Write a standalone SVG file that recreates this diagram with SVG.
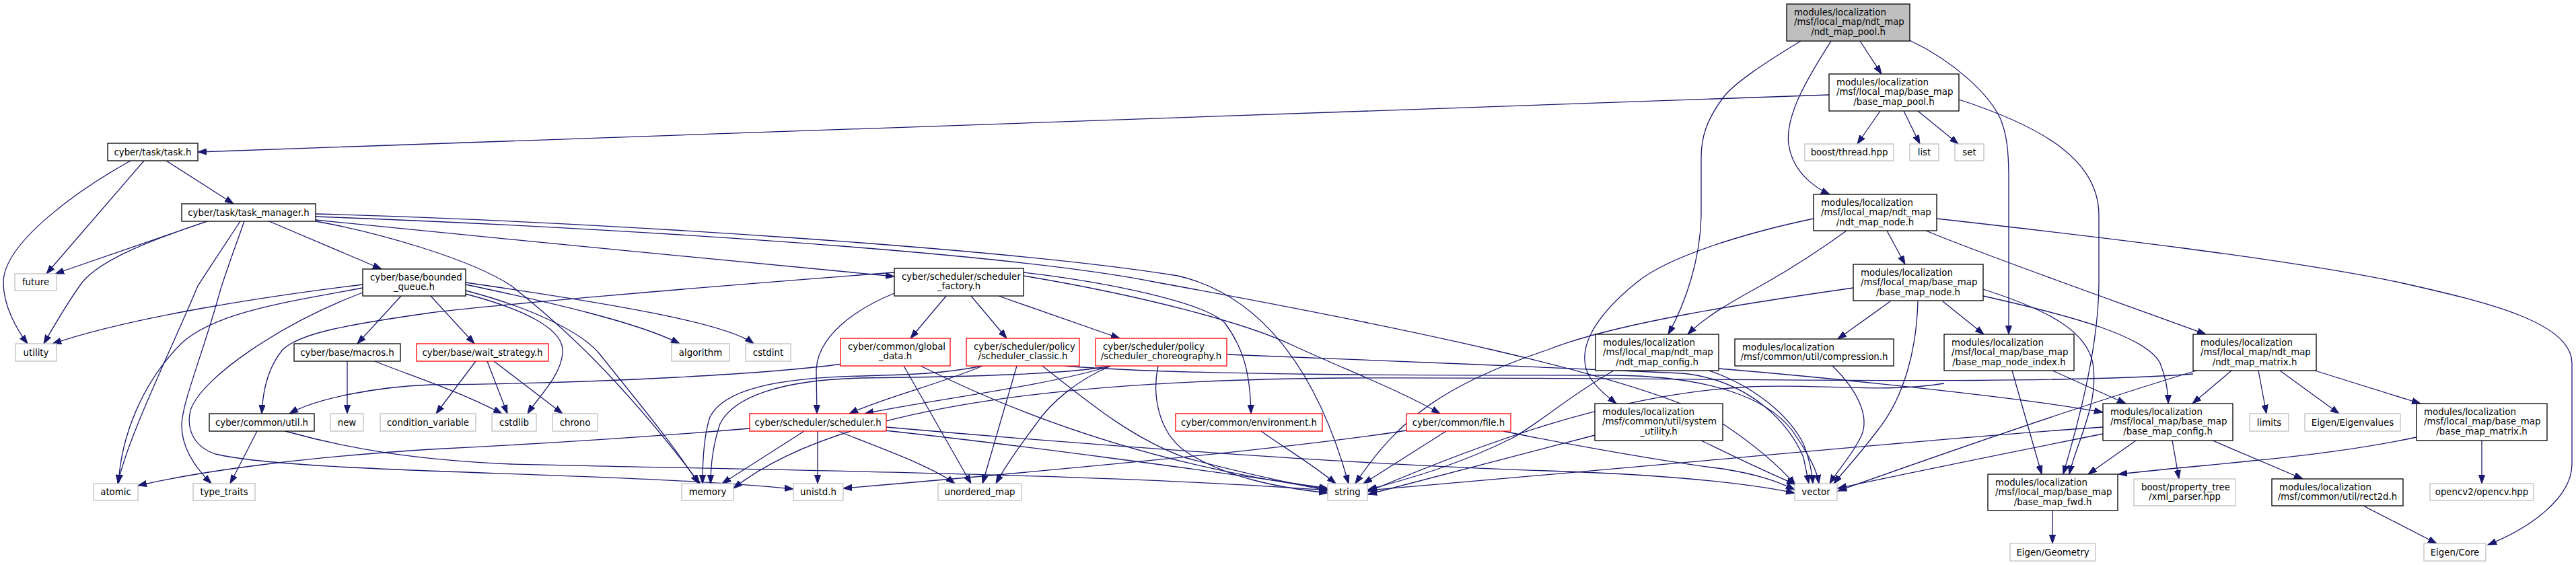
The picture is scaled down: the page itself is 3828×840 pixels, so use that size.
<svg xmlns="http://www.w3.org/2000/svg" width="3828" height="840" viewBox="0 0 3828 840">
<style>
.n rect{fill:#fff;stroke:#000;stroke-width:1.3}
.g rect{fill:#fff;stroke:#bfbfbf;stroke-width:1.3}
.r rect{fill:#fff;stroke:#ff0000;stroke-width:1.3}
.root rect{fill:#bfbfbf;stroke:#000;stroke-width:1.3}
text{font-family:"DejaVu Sans","Liberation Sans",sans-serif;font-size:13.33px;fill:#000}
.c{text-anchor:middle}
.e path{fill:none;stroke:#191970;stroke-width:1.3;marker-end:url(#ah)}
</style>
<defs>
<marker id="ah" markerUnits="userSpaceOnUse" markerWidth="14" markerHeight="10" viewBox="0 0 14 10" refX="13" refY="5" orient="auto">
<path d="M0,0.4 L13,5 L0,9.6 z" fill="#191970" stroke="#191970" stroke-width="1"/>
</marker>
</defs>
<rect x="0" y="0" width="3828" height="840" fill="#fff"/>
<g class="e" id="edges">
<path d="M2764,61 L2796,110"/>
<path d="M2721,61 C2690,110 2652,170 2658,215 C2664,255 2695,278 2719,289"/>
<path d="M2676,61 C2620,95 2575,125 2560,146 C2535,180 2528,205 2528,235 L2528,320 C2527,385 2505,450 2479,497"/>
<path d="M2838,60 C2905,92 2955,140 2972,175 C2983,200 2985,230 2985,265 L2985,497"/>
<path d="M2718,141 L294,226"/>
<path d="M2794,165 L2760,214"/>
<path d="M2829,165 L2853,214"/>
<path d="M2850,165 L2910,214"/>
<path d="M2911,148 C3040,190 3119,240 3119,320 L3119,420 C3119,520 3085,640 3066,705"/>
<path d="M214,239 L69,407"/>
<path d="M194,239 C120,280 5,360 5,420 C5,455 25,490 41,511"/>
<path d="M247,239 L347,303"/>
<path d="M308,329 L82,407"/>
<path d="M308,329 C230,355 150,385 122,420 C100,450 80,485 65,511"/>
<path d="M357,329 C330,370 310,400 294,425 C250,530 190,650 175,719"/>
<path d="M363,329 C345,380 330,420 325,440 C300,530 270,600 270,633 C270,670 295,700 314,719"/>
<path d="M400,329 L567,400"/>
<path d="M469,327 C700,350 1100,390 1329,411"/>
<path d="M469,329 C560,345 700,385 760,425 C830,480 920,560 1040,719"/>
<path d="M469,318 C900,330 1500,370 1750,410 C1880,440 1960,560 2004,719"/>
<path d="M469,322 C900,338 1500,375 1720,420 C2050,480 2450,560 2560,630 C2620,670 2650,700 2668,721"/>
<path d="M539,423 C400,440 200,470 78,511"/>
<path d="M539,428 C420,450 320,465 270,510 C210,570 180,650 176,719"/>
<path d="M596,440 L531,511"/>
<path d="M640,440 L705,511"/>
<path d="M692,423 C820,450 950,480 1010,511"/>
<path d="M692,420 C900,450 1080,480 1120,511"/>
<path d="M692,437 C780,460 840,490 836,525 C833,560 800,590 784,615"/>
<path d="M692,432 C780,455 860,490 890,525 C950,600 1000,660 1038,719"/>
<path d="M539,435 C420,480 300,560 283,610 C276,640 290,665 320,675 C450,705 900,700 1179,727"/>
<path d="M516,537 L516,615"/>
<path d="M557,537 C600,555 680,580 746,615"/>
<path d="M707,537 L648,615"/>
<path d="M724,537 L754,615"/>
<path d="M734,537 L836,615"/>
<path d="M382,641 L342,719"/>
<path d="M424,641 C520,668 620,684 760,690 C1200,700 1650,705 1973,729"/>
<path d="M1329,405 C1000,430 720,455 640,465 C520,482 445,495 420,520 C395,550 390,590 389,615"/>
<path d="M1329,436 C1270,460 1215,500 1213,550 L1214,615"/>
<path d="M1406,440 L1353,503"/>
<path d="M1443,440 L1496,503"/>
<path d="M1484,440 L1664,503"/>
<path d="M1521,405 C1650,420 1790,450 1820,480 C1850,520 1858,560 1859,615"/>
<path d="M1521,410 C1700,440 1850,480 1920,513 C2000,550 2080,580 2140,615"/>
<path d="M1252,541 C1150,555 900,570 640,572 C560,575 470,592 430,615"/>
<path d="M1343,544 L1443,719"/>
<path d="M1368,544 C1500,610 1700,690 1973,727"/>
<path d="M1460,544 C1400,570 1310,592 1262,615"/>
<path d="M1460,544 C1400,556 1350,557 1280,559 C1150,562 1075,580 1055,620 C1045,650 1044,690 1044,719"/>
<path d="M1511,544 L1460,719"/>
<path d="M1549,544 C1620,600 1680,650 1760,680 C1850,705 1920,718 1973,730"/>
<path d="M1582,544 C1750,558 2100,558 2400,558 C2560,560 2640,600 2670,650 C2690,680 2700,700 2703,719"/>
<path d="M1651,544 C1550,575 1380,595 1285,615"/>
<path d="M1651,544 C1590,556 1450,560 1280,562 C1160,565 1090,590 1070,630 C1060,660 1056,690 1056,719"/>
<path d="M1651,544 C1600,565 1560,600 1540,630 C1510,670 1490,700 1480,719"/>
<path d="M1721,544 C1712,585 1720,640 1760,670 C1820,710 1900,725 1973,733"/>
<path d="M1823,527 C2000,535 2300,545 2500,555 C2600,565 2660,630 2680,680 L2688,719"/>
<path d="M1114,637 C900,655 700,665 640,668 C450,680 300,700 205,722"/>
<path d="M1195,641 L1073,719"/>
<path d="M1215,641 L1215,719"/>
<path d="M1246,641 C1290,660 1380,690 1419,719"/>
<path d="M1315,640 C1500,660 1800,700 1973,726"/>
<path d="M1317,635 C1600,660 2000,690 2300,700 C2450,705 2580,715 2667,733"/>
<path d="M1874,641 C1900,660 1950,690 1985,719"/>
<path d="M2149,641 L2026,719"/>
<path d="M2234,641 C2350,665 2500,690 2560,697 C2610,705 2640,715 2667,728"/>
<path d="M2090,640 C1900,670 1500,705 1253,726"/>
<path d="M2398,551 C2330,590 2300,620 2250,650 C2170,690 2100,710 2033,728"/>
<path d="M2540,551 C2610,575 2660,620 2680,660 C2690,685 2693,705 2694,719"/>
<path d="M2554,548 C2700,560 3000,590 3125,613"/>
<path d="M2370,647 L2033,735"/>
<path d="M2528,655 C2570,675 2620,700 2668,720"/>
<path d="M2695,325 C2600,345 2480,380 2432,420 C2370,470 2340,520 2362,560 C2375,580 2392,592 2402,600"/>
<path d="M2744,343 C2700,375 2660,400 2625,420 C2590,440 2540,465 2508,497"/>
<path d="M2804,343 L2831,393"/>
<path d="M2862,343 C2950,380 3150,450 3278,497"/>
<path d="M2878,325 C3100,350 3400,385 3566,420 C3700,450 3822,480 3822,540 L3822,690 C3822,740 3760,785 3697,810"/>
<path d="M2754,428 C2600,450 2400,480 2300,520 C2150,570 2080,620 2014,719"/>
<path d="M2809,448 L2731,504"/>
<path d="M2850,448 C2848,520 2830,590 2790,640 C2760,680 2740,700 2725,719"/>
<path d="M2887,448 L2948,497"/>
<path d="M2947,430 C3040,460 3100,490 3110,540 C3120,600 3085,660 3075,705"/>
<path d="M2947,440 C3080,470 3190,500 3210,540 C3220,565 3222,585 3222,600"/>
<path d="M2723,544 C2760,580 2780,620 2765,650 C2750,680 2730,700 2719,719"/>
<path d="M2889,570 C2800,585 2700,570 2600,575 C2400,585 2200,660 2033,731"/>
<path d="M2990,551 L3034,705"/>
<path d="M3050,551 L3159,600"/>
<path d="M3125,635 C2900,650 2600,680 2033,729"/>
<path d="M3125,645 C3000,670 2850,700 2731,726"/>
<path d="M3174,655 L3103,705"/>
<path d="M3228,655 L3238,712"/>
<path d="M3288,655 L3422,712"/>
<path d="M3259,556 C3000,575 2500,560 2000,562 C1600,565 1250,600 1090,726"/>
<path d="M3264,551 C3100,600 2900,670 2731,730"/>
<path d="M3316,551 L3258,600"/>
<path d="M3356,551 L3368,615"/>
<path d="M3388,551 L3476,615"/>
<path d="M3440,551 L3597,600"/>
<path d="M3591,650 C3450,680 3300,688 3148,705"/>
<path d="M3688,655 L3688,719"/>
<path d="M3512,752 L3621,808"/>
<path d="M3050,759 L3050,808"/>
</g>
<g id="node_root" class="root"><rect x="2655" y="6" width="183" height="55"/><text x="2666" y="22.5">modules/localization</text><text x="2666" y="37.2">/msf/local_map/ndt_map</text><text class="c" x="2746.5" y="51.9">/ndt_map_pool.h</text></g>
<g id="node_bmpool" class="n"><rect x="2718" y="110" width="193" height="55"/><text x="2729" y="126.5">modules/localization</text><text x="2729" y="141.2">/msf/local_map/base_map</text><text class="c" x="2814.5" y="155.9">/base_map_pool.h</text></g>
<g id="node_task" class="n"><rect x="160" y="213" width="134" height="26"/><text class="c" x="227" y="230.5">cyber/task/task.h</text></g>
<g id="node_boost_thread" class="g"><rect x="2682" y="214" width="132" height="25"/><text class="c" x="2748" y="231">boost/thread.hpp</text></g>
<g id="node_list" class="g"><rect x="2838" y="214" width="43" height="25"/><text class="c" x="2859.5" y="231">list</text></g>
<g id="node_set" class="g"><rect x="2905" y="214" width="43" height="25"/><text class="c" x="2926.5" y="231">set</text></g>
<g id="node_taskmgr" class="n"><rect x="270" y="303" width="199" height="26"/><text class="c" x="369.5" y="320.5">cyber/task/task_manager.h</text></g>
<g id="node_ndtnode" class="n"><rect x="2695" y="289" width="183" height="54"/><text x="2706" y="305.5">modules/localization</text><text x="2706" y="320.2">/msf/local_map/ndt_map</text><text class="c" x="2786.5" y="334.9">/ndt_map_node.h</text></g>
<g id="node_future" class="g"><rect x="22" y="407" width="62" height="25"/><text class="c" x="53" y="424">future</text></g>
<g id="node_bq" class="n"><rect x="539" y="400" width="153" height="40"/><text x="550" y="416.5">cyber/base/bounded</text><text class="c" x="615.5" y="431.2">_queue.h</text></g>
<g id="node_factory" class="n"><rect x="1329" y="399" width="192" height="41"/><text x="1340" y="415.5">cyber/scheduler/scheduler</text><text class="c" x="1425" y="430.2">_factory.h</text></g>
<g id="node_bmnode" class="n"><rect x="2754" y="393" width="193" height="54"/><text x="2765" y="409.5">modules/localization</text><text x="2765" y="424.2">/msf/local_map/base_map</text><text class="c" x="2850.5" y="438.9">/base_map_node.h</text></g>
<g id="node_utility" class="g"><rect x="23" y="511" width="61" height="26"/><text class="c" x="53.5" y="528.5">utility</text></g>
<g id="node_macros" class="n"><rect x="437" y="511" width="158" height="26"/><text class="c" x="516" y="528.5">cyber/base/macros.h</text></g>
<g id="node_wait" class="r"><rect x="619" y="511" width="196" height="26"/><text class="c" x="717" y="528.5">cyber/base/wait_strategy.h</text></g>
<g id="node_algorithm" class="g"><rect x="998" y="511" width="86" height="26"/><text class="c" x="1041" y="528.5">algorithm</text></g>
<g id="node_cstdint" class="g"><rect x="1108" y="511" width="67" height="26"/><text class="c" x="1141.5" y="528.5">cstdint</text></g>
<g id="node_global" class="r"><rect x="1249" y="503" width="163" height="41"/><text x="1260" y="519.5">cyber/common/global</text><text class="c" x="1330.5" y="534.2">_data.h</text></g>
<g id="node_classic" class="r"><rect x="1436" y="503" width="168" height="41"/><text x="1447" y="519.5">cyber/scheduler/policy</text><text class="c" x="1520" y="534.2">/scheduler_classic.h</text></g>
<g id="node_choreo" class="r"><rect x="1628" y="503" width="195" height="41"/><text x="1639" y="519.5">cyber/scheduler/policy</text><text class="c" x="1725.5" y="534.2">/scheduler_choreography.h</text></g>
<g id="node_ndtconfig" class="n"><rect x="2371" y="497" width="183" height="54"/><text x="2382" y="513.5">modules/localization</text><text x="2382" y="528.2">/msf/local_map/ndt_map</text><text class="c" x="2462.5" y="542.9">/ndt_map_config.h</text></g>
<g id="node_compress" class="n"><rect x="2578" y="504" width="236" height="40"/><text x="2589" y="520.5">modules/localization</text><text class="c" x="2696" y="535.2">/msf/common/util/compression.h</text></g>
<g id="node_bmindex" class="n"><rect x="2889" y="497" width="193" height="54"/><text x="2900" y="513.5">modules/localization</text><text x="2900" y="528.2">/msf/local_map/base_map</text><text class="c" x="2985.5" y="542.9">/base_map_node_index.h</text></g>
<g id="node_ndtmatrix" class="n"><rect x="3259" y="497" width="183" height="54"/><text x="3270" y="513.5">modules/localization</text><text x="3270" y="528.2">/msf/local_map/ndt_map</text><text class="c" x="3350.5" y="542.9">/ndt_map_matrix.h</text></g>
<g id="node_util" class="n"><rect x="311" y="615" width="156" height="26"/><text class="c" x="389" y="632.5">cyber/common/util.h</text></g>
<g id="node_new" class="g"><rect x="491" y="615" width="49" height="26"/><text class="c" x="515.5" y="632.5">new</text></g>
<g id="node_condvar" class="g"><rect x="565" y="615" width="142" height="26"/><text class="c" x="636" y="632.5">condition_variable</text></g>
<g id="node_cstdlib" class="g"><rect x="731" y="615" width="66" height="26"/><text class="c" x="764" y="632.5">cstdlib</text></g>
<g id="node_chrono" class="g"><rect x="821" y="615" width="67" height="26"/><text class="c" x="854.5" y="632.5">chrono</text></g>
<g id="node_sched" class="r"><rect x="1114" y="615" width="203" height="26"/><text class="c" x="1215.5" y="632.5">cyber/scheduler/scheduler.h</text></g>
<g id="node_env" class="r"><rect x="1747" y="615" width="218" height="26"/><text class="c" x="1856" y="632.5">cyber/common/environment.h</text></g>
<g id="node_file" class="r"><rect x="2090" y="615" width="155" height="26"/><text class="c" x="2167.5" y="632.5">cyber/common/file.h</text></g>
<g id="node_sysutil" class="n"><rect x="2370" y="600" width="190" height="55"/><text x="2381" y="616.5">modules/localization</text><text x="2381" y="631.2">/msf/common/util/system</text><text class="c" x="2465" y="645.9">_utility.h</text></g>
<g id="node_bmconfig" class="n"><rect x="3125" y="600" width="193" height="55"/><text x="3136" y="616.5">modules/localization</text><text x="3136" y="631.2">/msf/local_map/base_map</text><text class="c" x="3221.5" y="645.9">/base_map_config.h</text></g>
<g id="node_limits" class="g"><rect x="3343" y="615" width="58" height="26"/><text class="c" x="3372" y="632.5">limits</text></g>
<g id="node_eigenval" class="g"><rect x="3425" y="615" width="142" height="26"/><text class="c" x="3496" y="632.5">Eigen/Eigenvalues</text></g>
<g id="node_bmmatrix" class="n"><rect x="3591" y="600" width="194" height="55"/><text x="3602" y="616.5">modules/localization</text><text x="3602" y="631.2">/msf/local_map/base_map</text><text class="c" x="3688" y="645.9">/base_map_matrix.h</text></g>
<g id="node_atomic" class="g"><rect x="139" y="719" width="66" height="25"/><text class="c" x="172" y="736">atomic</text></g>
<g id="node_typetraits" class="g"><rect x="287" y="719" width="92" height="25"/><text class="c" x="333" y="736">type_traits</text></g>
<g id="node_memory" class="g"><rect x="1013" y="719" width="77" height="25"/><text class="c" x="1051.5" y="736">memory</text></g>
<g id="node_unistd" class="g"><rect x="1179" y="719" width="74" height="25"/><text class="c" x="1216" y="736">unistd.h</text></g>
<g id="node_umap" class="g"><rect x="1394" y="719" width="124" height="25"/><text class="c" x="1456" y="736">unordered_map</text></g>
<g id="node_string" class="g"><rect x="1973" y="719" width="59" height="25"/><text class="c" x="2002.5" y="736">string</text></g>
<g id="node_vector" class="g"><rect x="2667" y="719" width="63" height="25"/><text class="c" x="2698.5" y="736">vector</text></g>
<g id="node_bmfwd" class="n"><rect x="2954" y="705" width="193" height="54"/><text x="2965" y="721.5">modules/localization</text><text x="2965" y="736.2">/msf/local_map/base_map</text><text class="c" x="3050.5" y="750.9">/base_map_fwd.h</text></g>
<g id="node_xml" class="g"><rect x="3171" y="712" width="151" height="40"/><text x="3182" y="728.5">boost/property_tree</text><text class="c" x="3246.5" y="743.2">/xml_parser.hpp</text></g>
<g id="node_rect2d" class="n"><rect x="3376" y="712" width="195" height="40"/><text x="3387" y="728.5">modules/localization</text><text class="c" x="3473.5" y="743.2">/msf/common/util/rect2d.h</text></g>
<g id="node_opencv" class="g"><rect x="3611" y="719" width="154" height="25"/><text class="c" x="3688" y="736">opencv2/opencv.hpp</text></g>
<g id="node_eigengeo" class="g"><rect x="2987" y="808" width="127" height="26"/><text class="c" x="3050.5" y="825.5">Eigen/Geometry</text></g>
<g id="node_eigencore" class="g"><rect x="3602" y="808" width="92" height="26"/><text class="c" x="3648" y="825.5">Eigen/Core</text></g>
</svg>
